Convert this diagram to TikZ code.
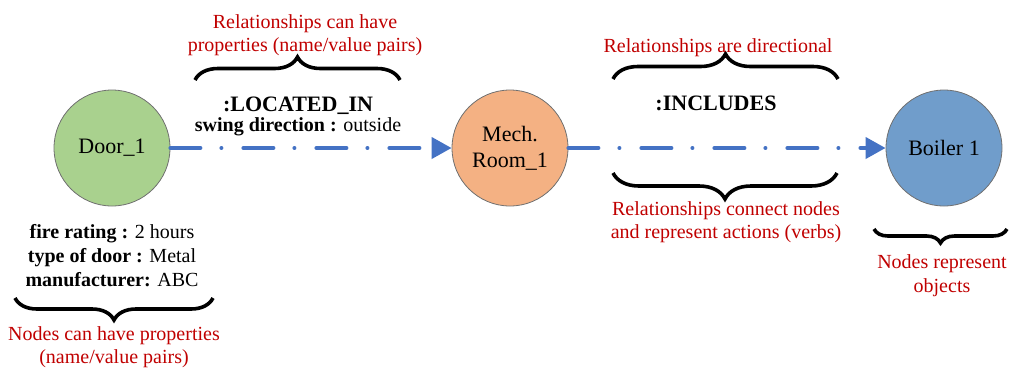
\documentclass[tikz,border=0pt]{standalone}
\usepackage{fontspec}
\setmainfont{Liberation Serif}
\usetikzlibrary{arrows.meta,decorations.pathreplacing}

\definecolor{doorgreen}{HTML}{A9D18E}
\definecolor{roomorange}{HTML}{F4B183}
\definecolor{boilerblue}{HTML}{709DCB}
\definecolor{linkblue}{HTML}{4472C4}
\definecolor{notered}{HTML}{C00000}
\definecolor{rimgray}{HTML}{707070}

\begin{document}
\begin{tikzpicture}[x=1pt,y=-1pt,
  entity/.style={circle, draw=rimgray, line width=0.8pt, minimum size=116pt,
    inner sep=0pt, align=center, font=\fontsize{22}{26}\selectfont},
  relation/.style={draw=linkblue, line width=4pt, line cap=round,
    dash pattern=on 30pt off 21pt on 0.01pt off 22pt,
    -{Triangle[length=20pt,width=21pt]}},
  curly/.style={decorate, decoration={brace, amplitude=#1}, line width=3.6pt},
  note/.style={anchor=base, inner sep=0pt, text=notered, font=\fontsize{20}{24}\selectfont},
  prop/.style={anchor=base, inner sep=0pt, font=\fontsize{20}{24}\selectfont},
  relname/.style={anchor=base, inner sep=0pt, font=\fontsize{22}{26}\selectfont\bfseries},
]
\useasboundingbox (0,0) rectangle (1013,368);

% graph nodes
\node[entity, fill=doorgreen]   (door)   at (112,148) {Door\_1};
\node[entity, fill=roomorange]  (room)   at (510,148) {Mech.\\Room\_1};
\node[entity, fill=boilerblue]  (boiler) at (944,148) {Boiler 1};

% relationships
\draw[relation] (door.east) -- (room.west);
\draw[relation] (room.east) -- (boiler.west);

% relationship labels
\node[relname] (locname) at (298,111) {:LOCATED\_IN};
\node[prop] (swing) at (298,131) {\textbf{swing direction :} outside};
\node[relname] (incname) at (716,110) {:INCLUDES};

% node properties
\node[prop] (fire)  at (112,238) {\textbf{fire rating :} 2 hours};
\node[prop] (dtype) at (112,262) {\textbf{type of door :} Metal};
\node[prop] (manuf) at (112,286) {\textbf{manufacturer:} ABC};

% braces
\draw[curly=23pt] (195,80) -- (400,80);
\draw[curly=25pt] (613,79) -- (838,79);
\draw[curly=26pt] (837,173) -- (613,173);
\draw[curly=14pt] (1007,229) -- (874,229);
\draw[curly=22pt] (213,298) -- (15,298);

% annotations
\node[note] (relprop1) at (305,28) {Relationships can have};
\node[note] (relprop2) at (305,51) {properties (name/value pairs)};
\node[note] (reldir)   at (718,52) {Relationships are directional};
\node[note] (relcon1)  at (726,215) {Relationships connect nodes};
\node[note] (relcon2)  at (726,238) {and represent actions (verbs)};
\node[note] (nodeobj1) at (942,268) {Nodes represent};
\node[note] (nodeobj2) at (942,292) {objects};
\node[note] (nodeprop1) at (114,340) {Nodes can have properties};
\node[note] (nodeprop2) at (114,363) {(name/value pairs)};
\end{tikzpicture}
\end{document}
